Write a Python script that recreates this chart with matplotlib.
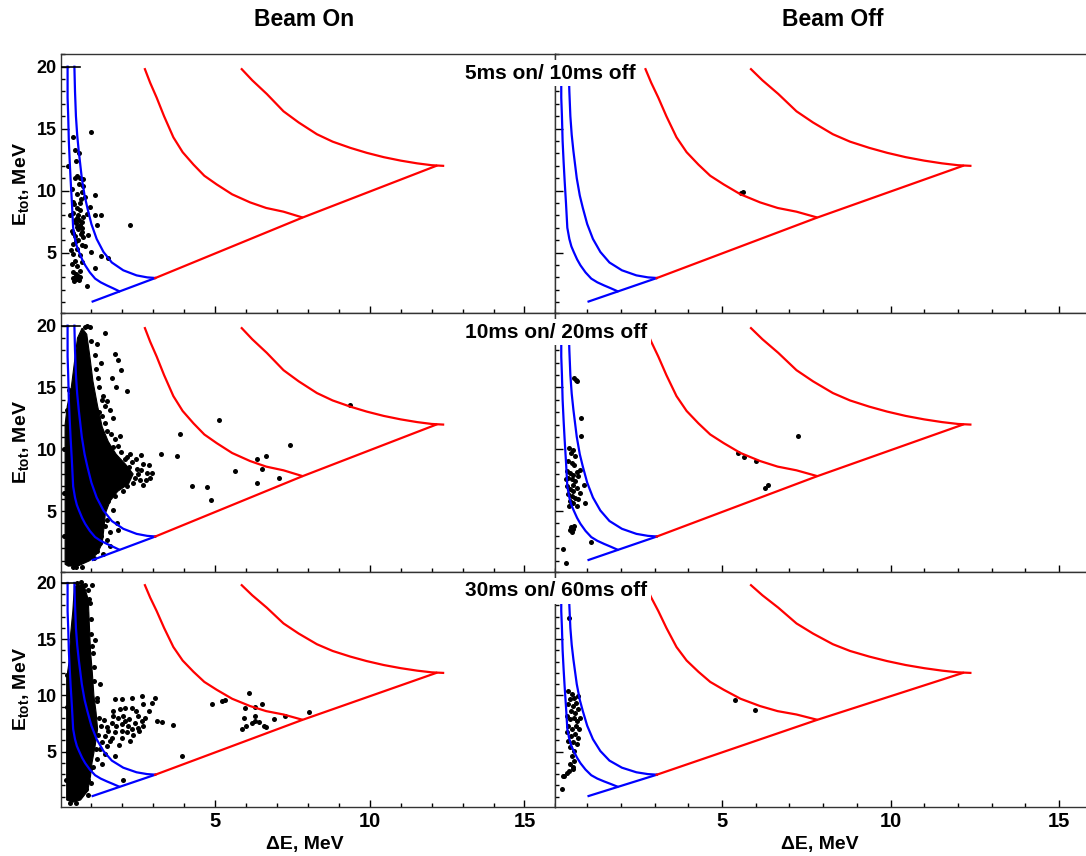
import matplotlib
matplotlib.use("Agg")
import matplotlib.pyplot as plt
from matplotlib.ticker import MultipleLocator, NullFormatter

plt.rcParams['font.family'] = ['Liberation Sans', 'DejaVu Sans']
plt.rcParams['font.weight'] = 'bold'
plt.rcParams['mathtext.fontset'] = 'custom'
plt.rcParams['mathtext.rm'] = 'Liberation Sans:bold'
plt.rcParams['mathtext.bf'] = 'Liberation Sans:bold'
plt.rcParams['mathtext.it'] = 'Liberation Sans:bold'

# ---------------- data ----------------
col_titles = ["Beam On", "Beam Off"]
row_labels = ["5ms on/ 10ms off", "10ms on/ 20ms off", "30ms on/ 60ms off"]
x_title = "\u0394E, MeV"
y_title = r"E$_{\mathbf{tot}}$, MeV"
x_ticks = [5, 10, 15]
y_ticks = [5, 10, 15, 20]

# identification curves (MeV)
blue_inner_x = [0.23, 0.23, 0.25, 0.27, 0.30, 0.33, 0.37, 0.41, 0.47, 0.53, 0.60, 0.70, 0.80, 0.95, 1.12,
                1.30, 1.50, 1.70, 1.90]
blue_inner_y = [20.0, 17.5, 16.0, 14.0, 12.3, 10.8, 9.0, 7.0, 6.1, 5.5, 5.05, 4.45, 3.97, 3.4, 2.9,
                2.6, 2.35, 2.12, 1.88]
blue_outer_x = [0.45, 0.47, 0.50, 0.54, 0.59, 0.69, 0.78, 0.87, 1.00, 1.17, 1.39, 1.66, 2.03, 2.46, 2.80, 3.06]
blue_outer_y = [20.0, 18.0, 16.0, 14.5, 13.2, 11.0, 9.6, 8.6, 7.3, 6.1, 5.05, 4.2, 3.57, 3.16, 3.0, 2.95]
blue_base_x = [1.04, 3.06]
blue_base_y = [1.05, 2.94]
red_base_x = [3.06, 7.80, 12.15]
red_base_y = [2.94, 7.80, 12.0]
red_inner_x = [2.73, 2.90, 3.11, 3.35, 3.65, 3.95, 4.30, 4.65, 5.05, 5.55, 6.13, 6.65, 7.21, 7.80]
red_inner_y = [19.8, 18.7, 17.5, 16.0, 14.3, 13.1, 12.1, 11.2, 10.5, 9.7, 9.05, 8.6, 8.3, 7.85]
red_outer_x = [5.86, 6.20, 6.67, 7.21, 7.70, 8.29, 8.80, 9.37, 9.90, 10.45, 11.00, 11.53, 12.00, 12.37]
red_outer_y = [19.8, 18.9, 17.8, 16.4, 15.5, 14.55, 13.95, 13.45, 13.05, 12.7, 12.42, 12.2, 12.05, 12.0]
top_bar_x = [0.03, 0.62]
top_bar_y = [20.0, 20.0]

# events: 5ms on
on5_x = [1.0, 0.42, 0.47, 0.5, 0.25, 0.47, 0.63, 0.6, 0.74, 0.36, 0.68, 0.52, 0.79, 1.12, 0.42, 0.63,
         0.97, 0.52, 0.42, 0.58, 0.74, 1.12, 1.3, 0.47, 0.68, 0.63, 0.52, 1.17, 2.25, 0.36, 0.68, 0.47,
         0.74, 0.58, 0.42, 0.68, 0.55, 1.0, 0.42, 0.63, 1.3, 1.55, 0.47, 0.68, 0.55, 1.12, 0.63, 0.5,
         0.39, 0.55, 0.45, 0.63, 0.87, 0.55, 0.6, 0.5, 0.58, 0.65, 0.4, 0.5, 0.62, 0.45, 0.7, 0.56,
         0.48, 0.6, 0.41, 0.85, 0.9, 0.3, 0.33, 0.36, 0.74, 0.55, 0.6, 0.65, 0.8]
on5_y = [14.7, 14.3, 13.3, 12.4, 11.97, 11.05, 11.0, 10.5, 10.4, 10.1, 9.9, 9.7, 9.45, 9.65, 9.1, 9.0,
         8.7, 8.6, 8.2, 8.05, 7.9, 8.05, 8.05, 7.6, 7.5, 7.2, 7.1, 7.2, 7.2, 6.75, 6.7, 6.35,
         6.25, 6.0, 5.7, 5.6, 5.3, 5.05, 4.9, 4.77, 4.7, 4.6, 4.35, 4.2, 3.95, 3.75, 3.55, 3.25,
         2.97, 2.9, 2.7, 3.05, 2.3, 7.8, 7.6, 7.4, 6.9, 6.5, 6.6, 5.9, 8.4, 8.9, 7.0, 3.1,
         3.0, 2.8, 3.4, 8.1, 6.4, 8.0, 5.2, 4.1, 10.9, 11.2, 13.0, 9.3, 5.5]
off5_x = [5.56, 5.62]
off5_y = [9.77, 9.85]

# events: 10ms on (dense core outline + individual events)
core10_x = [0.15, 0.15, 0.22, 0.35, 0.45, 0.55, 0.70, 0.85, 0.95, 1.05, 1.20, 1.35, 1.55, 1.80, 2.10,
            2.35, 2.20, 1.85, 1.60, 1.45, 1.40, 1.35, 1.20, 0.95, 0.60, 0.25]
core10_y = [0.7, 12.0, 13.5, 15.0, 17.0, 19.0, 19.8, 19.3, 17.5, 15.5, 13.5, 11.8, 10.6, 9.6, 8.8,
            8.0, 7.2, 6.6, 5.8, 4.8, 3.5, 2.4, 1.6, 1.0, 0.6, 0.55]
on10_x = [0.87, 0.8, 0.95, 1.44, 1.17, 1.76, 1.87, 1.97, 1.65, 1.79, 2.14, 1.39, 1.52, 1.44, 1.6, 1.71,
          1.33, 1.92, 1.76, 1.49, 1.87, 2.14, 2.3, 2.68, 2.47, 2.79, 2.95, 2.9, 2.57, 2.36, 2.14, 2.68,
          2.03, 1.76, 1.54, 1.71, 1.82, 1.87, 1.49, 1.28, 1.6, 1.17, 1.39, 0.95, 0.31, 0.52,
          1.9, 2.05, 2.2, 2.5, 2.4, 2.6, 2.0, 1.95, 2.1, 1.6, 1.25, 1.15, 1.3, 1.0, 1.2, 1.5, 1.4,
          1.55, 1.3, 1.5, 1.6, 1.45, 1.1, 0.7, 0.2, 0.28,
          1.12, 1.25, 1.35, 1.45, 1.62, 1.7, 1.55, 1.5, 1.42, 1.3, 1.12, 0.5, 0.4, 0.12, 0.12, 0.13,
          2.45, 2.25, 1.95, 2.75, 2.6, 2.85,
          5.11, 3.87, 3.25, 3.76, 5.65, 4.25, 4.75, 4.86, 6.35, 6.65, 6.53, 6.35, 7.05, 7.43, 9.37]
on10_y = [20.0, 19.9, 19.9, 19.4, 18.5, 17.7, 17.2, 16.4, 15.8, 15.05, 14.7, 14.3, 13.9, 13.5, 13.2, 12.5,
          12.7, 11.1, 10.8, 10.4, 10.3, 9.4, 9.0, 8.85, 8.4, 8.1, 8.05, 7.7, 7.55, 7.3, 7.0, 7.15,
          6.6, 6.2, 5.8, 5.1, 4.07, 3.5, 2.7, 2.4, 2.2, 1.8, 1.5, 1.25, 0.97, 0.84,
          8.4, 8.2, 8.6, 8.0, 7.7, 8.3, 7.5, 9.8, 9.2, 9.9, 13.0, 16.5, 17.0, 18.8, 15.8, 11.5, 7.0,
          6.6, 5.2, 4.3, 3.3, 3.8, 1.2, 0.5, 13.2, 14.8,
          17.6, 15.0, 14.0, 12.1, 11.2, 10.2, 9.1, 6.9, 5.5, 3.0, 2.0, 0.45, 0.5, 3.0, 6.5, 10.0,
          9.2, 9.6, 7.1, 7.5, 9.5, 8.7,
          12.4, 11.2, 9.63, 9.44, 8.28, 7.07, 6.97, 5.89, 9.25, 9.44, 8.42, 7.29, 7.64, 10.38, 13.6]
off10_x = [0.61, 0.67, 0.71, 0.81, 0.81, 0.47, 0.57, 0.51, 0.64, 0.44, 0.54, 0.61, 0.79, 0.41, 0.49,
           0.59, 0.69, 0.44, 0.54, 0.64, 0.89, 0.39, 0.49, 0.59, 0.69, 0.79, 0.44, 0.54, 0.64, 0.74,
           0.49, 0.59, 0.94, 0.69, 0.47, 0.37, 0.74, 0.59, 0.51, 0.57, 0.61, 0.54, 0.49, 1.11, 0.29,
           0.36, 5.47, 5.65, 6.01, 7.26, 6.37, 6.28]
off10_y = [15.75, 15.6, 15.5, 12.5, 11.1, 10.11, 9.98, 9.71, 9.44, 9.04, 8.9, 8.77, 8.36, 8.23, 8.09,
           7.96, 8.15, 7.69, 7.56, 7.42, 7.15, 7.02, 6.75, 6.61, 6.88, 6.48, 6.35, 6.21, 6.08, 5.94,
           5.81, 5.68, 5.68, 5.41, 5.41, 7.56, 7.83, 7.15, 3.74, 3.53, 3.79, 3.31, 3.47, 2.5, 1.9,
           0.8, 9.73, 9.41, 9.09, 11.1, 7.15, 6.85]

# events: 30ms on
core30_x = [0.20, 0.20, 0.28, 0.33, 0.40, 0.45, 0.75, 0.90, 0.93, 0.97, 1.03, 1.08, 1.15, 1.20, 1.12,
            1.02, 0.97, 0.88, 0.65, 0.40]
core30_y = [0.7, 11.5, 13.0, 15.5, 17.5, 19.7, 19.9, 18.5, 16.5, 14.0, 12.0, 10.0, 8.5, 7.0, 5.5,
            4.0, 2.8, 1.5, 0.7, 0.5]
on30_x = [0.8, 1.01, 0.9, 0.95, 0.84, 1.12, 1.01, 1.28, 1.17,
          1.76, 1.98, 2.32, 2.63, 3.06, 2.95, 2.68, 1.71, 1.92, 2.09, 2.3, 2.03, 2.52, 2.73, 1.65, 1.81,
          1.98, 2.19, 2.41, 2.63, 1.76, 1.98, 2.14, 2.3, 2.52, 2.68, 1.55, 1.44, 1.65, 1.33, 1.49, 1.28,
          2.25, 1.44, 1.76, 1.17, 1.33, 3.11, 3.27, 3.65, 3.92, 2.03, 0.9, 0.95, 0.84,
          1.85, 2.2, 2.45, 1.5, 1.4, 2.0, 1.6, 2.35, 2.1, 1.9, 2.55, 1.7, 2.85,
          4.9, 5.22, 5.33, 6.11, 5.97, 6.3, 6.51, 5.92, 6.3, 6.0, 6.3, 6.41, 6.57, 6.63, 6.19, 5.87,
          7.27, 8.04, 6.89,
          1.25, 1.3, 1.22, 1.15, 1.05, 1.0, 0.9, 0.3, 0.5, 1.1, 1.05, 1.0, 0.98, 0.92, 0.55, 0.65,
          0.2, 0.22, 0.25, 0.18, 1.08, 1.18]
on30_y = [19.8, 19.8, 19.4, 18.2, 17.3, 14.9, 14.4, 11.0, 9.8,
          9.65, 9.65, 9.8, 9.94, 9.8, 9.35, 9.2, 8.6, 8.76, 8.9, 8.9, 8.17, 8.17, 8.0, 7.58, 7.29,
          7.43, 7.29, 7.58, 7.73, 6.7, 6.84, 6.7, 6.99, 7.14, 7.29, 6.84, 6.4, 6.25, 5.81, 5.52, 5.22,
          5.96, 4.78, 4.63, 4.34, 3.87, 7.73, 7.64, 7.38, 4.63, 2.5, 2.5, 3.45, 1.68,
          8.0, 7.9, 8.6, 7.2, 7.8, 6.2, 5.9, 6.5, 7.7, 5.6, 6.8, 8.2, 8.6,
          9.2, 9.5, 9.6, 10.2, 8.9, 9.0, 9.2, 8.0, 8.2, 7.3, 7.7, 7.6, 7.3, 7.2, 7.5, 7.0,
          8.2, 8.5, 7.9,
          8.0, 7.3, 6.5, 5.2, 3.6, 2.2, 1.1, 0.4, 0.45, 12.5, 13.8, 15.5, 16.8, 18.6, 20.0, 20.1,
          11.8, 9.0, 5.0, 2.5, 11.3, 9.5]
off30_x = [0.46, 0.44, 0.54, 0.49, 0.61, 0.74, 0.44, 0.57, 0.67, 0.51, 0.64, 0.74, 0.39, 0.49, 0.61,
           0.71, 0.79, 0.44, 0.54, 0.67, 0.77, 0.39, 0.51, 0.64, 0.74, 0.44, 0.57, 0.69, 0.49, 0.61,
           0.54, 0.61, 0.49, 0.57, 0.59, 0.47, 0.39, 0.31, 0.27, 0.24, 5.39, 5.98]
off30_y = [16.87, 10.38, 10.09, 9.65, 9.79, 9.94, 9.2, 9.06, 9.35, 8.6, 8.47, 8.76, 8.17, 7.88, 8.02,
           7.73, 8.02, 7.29, 7.05, 7.29, 6.99, 6.7, 6.4, 6.55, 6.25, 5.96, 5.81, 5.66, 5.37, 5.08,
           4.63, 4.19, 3.89, 3.6, 3.45, 3.3, 3.1, 2.86, 2.8, 1.68, 9.6, 8.72]

events = [
    [(None, on5_x, on5_y), (None, off5_x, off5_y)],
    [((core10_x, core10_y), on10_x, on10_y), (None, off10_x, off10_y)],
    [((core30_x, core30_y), on30_x, on30_y), (None, off30_x, off30_y)],
]

# ---------------- layout (pixels) ----------------
W, H = 1086, 856
col_px = [(61.4, 555.4), (555.4, 1092.7)]
col_xlim = [(0.03, 16.0), (0.056, 16.0)]
row_px = [(54.3, 313.3), (313.3, 571.7), (571.7, 806.7)]
ylim = (0.1, 21.0)

fig = plt.figure(figsize=(W / 100, H / 100), dpi=100)

for r, (top, bot) in enumerate(row_px):
    for c, (left, right) in enumerate(col_px):
        ax = fig.add_axes([left / W, 1 - bot / H, (right - left) / W, (bot - top) / H])
        ax.set_xlim(*col_xlim[c])
        ax.set_ylim(*ylim)
        core, ex, ey = events[r][c]
        if core is not None:
            ax.fill(core[0], core[1], color='black', lw=0.8, ec='black', zorder=2)
        ax.scatter(ex, ey, s=13, c='black', marker='o', linewidths=0, zorder=3)

        for xs, ys in [(blue_inner_x, blue_inner_y), (blue_outer_x, blue_outer_y), (blue_base_x, blue_base_y)]:
            ax.plot(xs, ys, color='#0000ff', lw=1.6, zorder=4, solid_joinstyle='round')
        for xs, ys in [(red_base_x, red_base_y), (red_inner_x, red_inner_y), (red_outer_x, red_outer_y)]:
            ax.plot(xs, ys, color='#ff0000', lw=1.6, zorder=4, solid_joinstyle='round')
        ax.plot(top_bar_x, top_bar_y, color='black', lw=1.2, zorder=4)

        ax.xaxis.set_major_locator(plt.FixedLocator(x_ticks))
        ax.xaxis.set_minor_locator(MultipleLocator(1))
        ax.yaxis.set_major_locator(plt.FixedLocator(y_ticks))
        ax.yaxis.set_minor_locator(MultipleLocator(1))
        ax.tick_params(which='both', direction='in', top=False, right=False, width=1.0, colors='black')
        ax.tick_params(axis='x', which='major', length=5.0, labelsize=14.5, pad=3.5)
        ax.tick_params(axis='x', which='minor', length=3.0)
        ax.tick_params(axis='y', which='major', length=5.5, labelsize=13, pad=3.5)
        ax.tick_params(axis='y', which='minor', length=3.0)
        for lab in ax.get_xticklabels() + ax.get_yticklabels():
            lab.set_fontweight('bold')
        if r != 2:
            ax.xaxis.set_major_formatter(NullFormatter())
        if c != 0:
            ax.yaxis.set_major_formatter(NullFormatter())
        for sp in ax.spines.values():
            sp.set_linewidth(1.0)
            sp.set_color('#333333')

    # row label (white box hides the frame and curves beneath it)
    fig.text(465 / W, 1 - (top + 19) / H, row_labels[r], ha='left', va='center',
             fontsize=15, fontweight='bold', zorder=10,
             bbox=dict(facecolor='white', edgecolor='none', pad=2.6))
    # y axis title
    fig.text(21 / W, 1 - ((top + bot) / 2) / H, y_title, rotation=90, ha='center', va='center',
             fontsize=14, fontweight='bold')

# column titles and x titles
for c, cx in enumerate([304, 833]):
    fig.text(cx / W, 1 - 20 / H, col_titles[c], ha='center', va='center', fontsize=16.5, fontweight='bold')
for cx in [305, 820]:
    fig.text(cx / W, 1 - 844 / H, x_title, ha='center', va='center', fontsize=14, fontweight='bold')

fig.savefig("out.png", dpi=100)
